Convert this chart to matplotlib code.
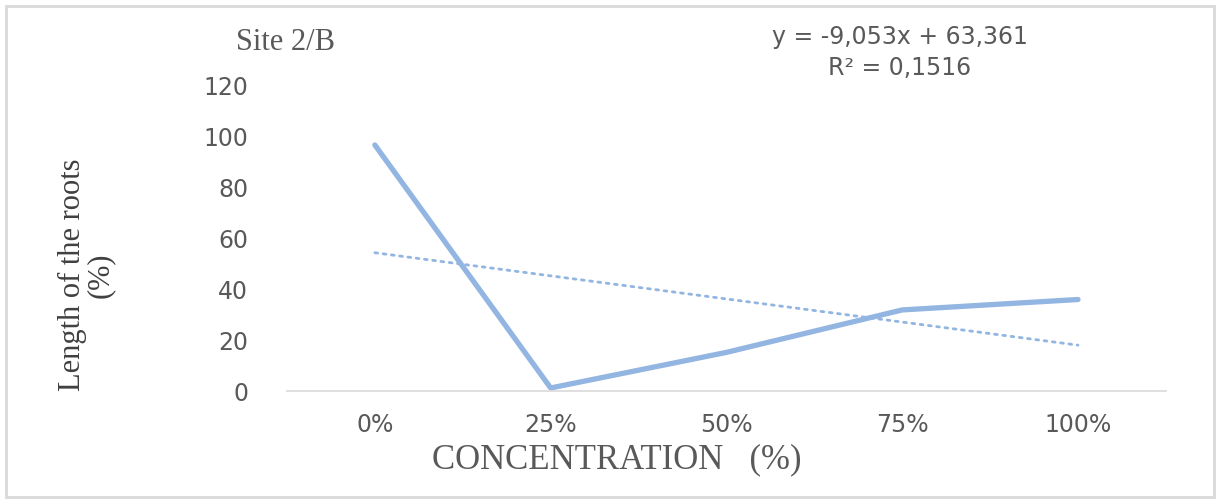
import numpy as np
import matplotlib.pyplot as plt
from matplotlib.patches import Rectangle

kategoriler = ["0%", "25%", "50%", "75%", "100%"]
kok_uzunlugu = [96.8, 1.2, 15.2, 31.9, 36.0]
y_tikler = [0, 20, 40, 60, 80, 100, 120]

mavi = "#92B5E1"
gri = "#595959"

fig = plt.figure(figsize=(12.17, 4.99), dpi=100)
ax = fig.add_axes([0.2358, 0.2164, 0.7222, 0.6113])

x = np.arange(len(kategoriler))
ax.plot(x, kok_uzunlugu, color=mavi, lw=3.8, solid_capstyle="round")

# dogrusal egilim cizgisi (Excel gibi, x = 1..n)
egim, kesim = np.polyfit(x + 1, kok_uzunlugu, 1)
ax.plot(x, egim * (x + 1) + kesim, color=mavi, lw=2.0,
        linestyle=(0, (1, 2)), dash_capstyle="round")

ax.set_xlim(-0.5, len(kategoriler) - 0.5)
ax.set_ylim(0, 120)
ax.set_yticks(y_tikler)
ax.set_xticks(x)
ax.set_xticklabels(kategoriler)
ax.tick_params(length=0, labelsize=17, colors=gri)
ax.tick_params(axis="y", pad=28)
ax.tick_params(axis="x", pad=16)
for s in ["top", "right", "left"]:
    ax.spines[s].set_visible(False)
ax.spines["bottom"].set_color("#D9D9D9")
ax.spines["bottom"].set_linewidth(1.2)

fig.text(285 / 1217, 1 - 42 / 499, "Site 2/B", ha="center", va="center",
         family="Liberation Serif", fontsize=22, color=gri)
fig.text(900 / 1217, 1 - 37 / 499, "y = -9,053x + 63,361", ha="center",
         va="center", fontsize=17, color=gri)
fig.text(900 / 1217, 1 - 68 / 499, "R² = 0,1516", ha="center",
         va="center", fontsize=17, color=gri)
fig.text(86 / 1217, 1 - 275 / 499, "Length of the roots\n(%)", ha="center",
         va="center", rotation=90, family="Liberation Serif", fontsize=22,
         color="#404040", linespacing=0.95)
fig.text(617 / 1217, 1 - 460 / 499, "CONCENTRATION   (%)", ha="center",
         va="center", family="Liberation Serif", fontsize=25, color=gri)

fig.patches.append(Rectangle((6 / 1217, 2 / 499), 1208 / 1217, 491 / 499,
                             transform=fig.transFigure, fill=False,
                             edgecolor="#D9D9D9", lw=2))

fig.savefig("out.png", dpi=100)
